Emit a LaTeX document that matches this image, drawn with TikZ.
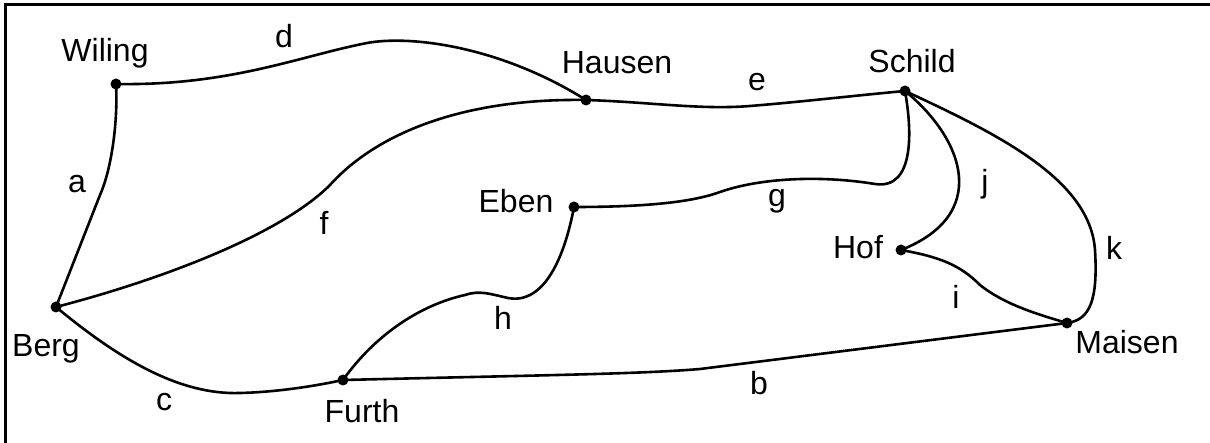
\documentclass[tikz,border=0pt]{standalone}
\usepackage{fontspec}
\setmainfont{Liberation Sans}
\begin{document}
\begin{tikzpicture}[x=1pt,y=-1pt,
  edge/.style={line width=2.6pt, line join=round, line cap=round},
  town/.style={circle,fill,inner sep=0pt,minimum size=11pt},
  lbl/.style={anchor=base,inner sep=0pt,font=\fontsize{32}{38}\selectfont}]
\useasboundingbox (0,0) rectangle (1210,443);
\draw[line width=3pt] (5,443) -- (5,5) -- (1210,5);
% towns
\node[town] (Wiling) at (116,84) {};
\node[town] (Hausen) at (586,100) {};
\node[town] (Schild) at (905,91) {};
\node[town] (Eben) at (574,207) {};
\node[town] (Hof) at (901,250) {};
\node[town] (Maisen) at (1067,323) {};
\node[town] (Berg) at (56,307) {};
\node[town] (Furth) at (343,380) {};
% town names
\node[lbl] (tWiling) at (105,62) {Wiling};
\node[lbl] (tHausen) at (617,74) {Hausen};
\node[lbl] (tSchild) at (912,73) {Schild};
\node[lbl] (tEben) at (516,213) {Eben};
\node[lbl] (tHof) at (858,259) {Hof};
\node[lbl] (tMaisen) at (1127,354) {Maisen};
\node[lbl] (tBerg) at (46,357) {Berg};
\node[lbl] (tFurth) at (362,422) {Furth};
% edge labels
\node[lbl] (la) at (77,193) {a};
\node[lbl] (lb) at (759,395) {b};
\node[lbl] (lc) at (164,410) {c};
\node[lbl] (ld) at (284,48) {d};
\node[lbl] (le) at (757,91) {e};
\node[lbl] (lf) at (324,235) {f};
\node[lbl] (lg) at (777,207) {g};
\node[lbl] (lh) at (503,330) {h};
\node[lbl] (li) at (956,309) {i};
\node[lbl] (lj) at (985,193) {j};
\node[lbl] (lk) at (1114,260) {k};
% edges
\draw[edge] (Wiling.center) .. controls (118,120) and (112,168) .. (100,195) -- (Berg.center);
\draw[edge] (Wiling.center) .. controls (230,86) and (300,56) .. (367,43) .. controls (410,35) and (500,46) .. (Hausen.center);
\draw[edge] (Berg.center) .. controls (160,280) and (280,235) .. (330,185) .. controls (375,135) and (460,98) .. (Hausen.center);
\draw[edge] (Hausen.center) .. controls (650,102) and (700,110) .. (750,106) .. controls (800,102) and (860,95) .. (Schild.center);
\draw[edge] (Eben.center) .. controls (640,207) and (690,203) .. (720,192) .. controls (760,178) and (820,175) .. (875,184) .. controls (915,190) and (912,130) .. (Schild.center);
\draw[edge] (Eben.center) .. controls (565,255) and (545,305) .. (508,298) .. controls (490,294) and (480,290) .. (465,295) .. controls (420,305) and (375,335) .. (Furth.center);
\draw[edge] (Berg.center) .. controls (120,360) and (180,395) .. (240,393) .. controls (280,392) and (320,385) .. (Furth.center);
\draw[edge] (Furth.center) .. controls (550,375) and (640,374) .. (700,369) -- (Maisen.center);
\draw[edge] (Schild.center) .. controls (965,140) and (990,215) .. (Hof.center);
\draw[edge] (Schild.center) .. controls (1000,135) and (1090,180) .. (1095,250) .. controls (1098,300) and (1090,320) .. (Maisen.center);
\draw[edge] (Hof.center) .. controls (940,257) and (960,265) .. (980,285) .. controls (1005,305) and (1040,315) .. (Maisen.center);
\end{tikzpicture}
\end{document}
